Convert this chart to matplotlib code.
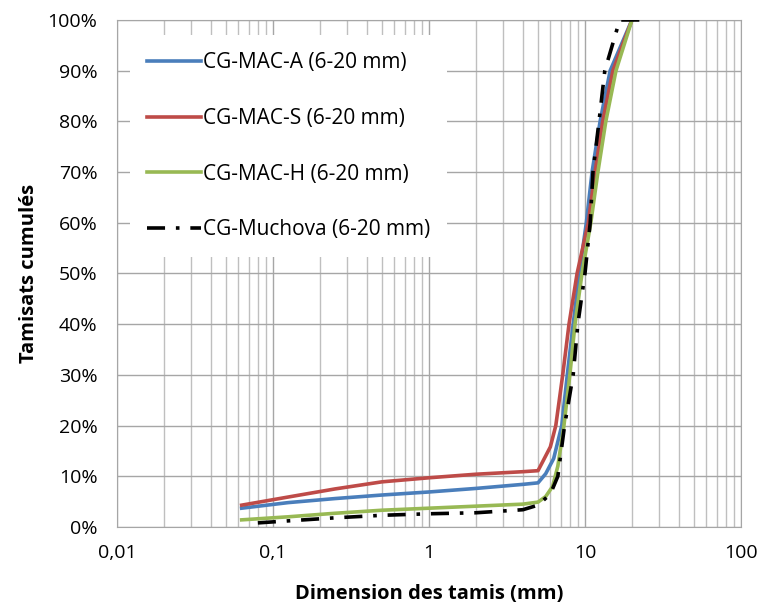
import matplotlib.pyplot as plt
from matplotlib.ticker import FuncFormatter, LogLocator, MultipleLocator

# sieve sizes (mm) and cumulative passing (%)
sizes_a = [0.063, 0.125, 0.25, 0.5, 1, 2, 4, 5, 5.6, 6.3, 7.1, 7.7, 8.4, 9.2,
           10.2, 11.1, 12.5, 14.5, 20]
mac_a = [3.7, 4.8, 5.6, 6.3, 6.9, 7.6, 8.4, 8.7, 10.5, 13.5, 20, 30, 40, 50,
         60, 70, 80, 90, 100]

sizes_s = [0.063, 0.125, 0.25, 0.5, 1, 2, 4, 5, 5.3, 6.0, 6.5, 7.2, 7.9, 8.9,
           10.5, 11.6, 13.0, 15.1, 20]
mac_s = [4.3, 5.9, 7.5, 8.9, 9.7, 10.4, 10.9, 11.1, 12.6, 15.8, 20, 30, 40, 50,
         60, 70, 80, 90, 100]

sizes_h = [0.063, 0.125, 0.25, 0.5, 1, 2, 4, 5, 5.6, 6.2, 6.7, 7.33, 8.0, 8.63,
           9.57, 10.9, 12.1, 13.6, 15.8, 20]
mac_h = [1.4, 2.0, 2.7, 3.3, 3.7, 4.1, 4.5, 4.9, 6.0, 8, 12, 20, 30, 40,
         50, 60, 70, 80, 90, 100]

sizes_m = [0.08, 0.125, 0.25, 0.5, 1, 2, 4, 5, 6.0, 6.7, 7.4, 8.4, 9.0, 10,
           10.8, 11.25, 12.3, 13.4, 16.7, 25]
muchova = [0.8, 1.2, 1.8, 2.3, 2.6, 2.8, 3.4, 4.3, 6.5, 10, 20, 30, 40, 50,
           60, 70, 80, 90, 100, 100]

labels = ["CG-MAC-A (6-20 mm)", "CG-MAC-S (6-20 mm)",
          "CG-MAC-H (6-20 mm)", "CG-Muchova (6-20 mm)"]

plt.rcParams['font.family'] = ['Open Sans', 'DejaVu Sans']

fig = plt.figure(figsize=(7.61, 6.05), dpi=100)
ax = fig.add_axes([0.1537, 0.129, 0.82, 0.838])

lw = 2.6
ax.plot(sizes_a, mac_a, color="#4A7EBB", lw=lw, label=labels[0], zorder=3)
ax.plot(sizes_s, mac_s, color="#BE4B48", lw=lw, label=labels[1], zorder=3)
ax.plot(sizes_h, mac_h, color="#98B954", lw=lw, label=labels[2], zorder=3)
ax.plot(sizes_m, muchova, color="black", lw=lw, dashes=(5, 3, 1, 3),
        label=labels[3], zorder=4)

ax.set_xscale("log")
ax.set_xlim(0.01, 100)
ax.set_ylim(0, 100)
ax.yaxis.set_major_locator(MultipleLocator(10))
ax.yaxis.set_major_formatter(FuncFormatter(lambda v, p: f"{v:.0f}%"))
ax.xaxis.set_major_locator(LogLocator(base=10))
ax.xaxis.set_minor_locator(LogLocator(base=10, subs=range(2, 10)))
ax.xaxis.set_major_formatter(FuncFormatter(lambda v, p: f"{v:g}".replace(".", ",")))

ax.grid(True, which="major", color="#A6A6A6", lw=1.0)
ax.grid(True, which="minor", axis="x", color="#BFBFBF", lw=1.0)
ax.set_axisbelow(True)
for s in ax.spines.values():
    s.set_color("#A6A6A6")
ax.tick_params(which="both", length=0, labelsize=14, colors="#000000")
ax.tick_params(axis="y", pad=14)
ax.tick_params(axis="x", pad=12)

ax.set_xlabel("Dimension des tamis (mm)", fontsize=14.5, fontweight="bold", labelpad=16)
ax.set_ylabel("Tamisats cumulés", fontsize=14.5, fontweight="bold", labelpad=6)

leg = ax.legend(loc="upper left", bbox_to_anchor=(0.004, 0.99), fontsize=15,
                frameon=True, framealpha=1, edgecolor="white", fancybox=False,
                handlelength=2.6, handletextpad=0.1, labelspacing=1.67,
                borderpad=0.8)
leg.get_frame().set_linewidth(0)

fig.savefig("out.png", dpi=100)
